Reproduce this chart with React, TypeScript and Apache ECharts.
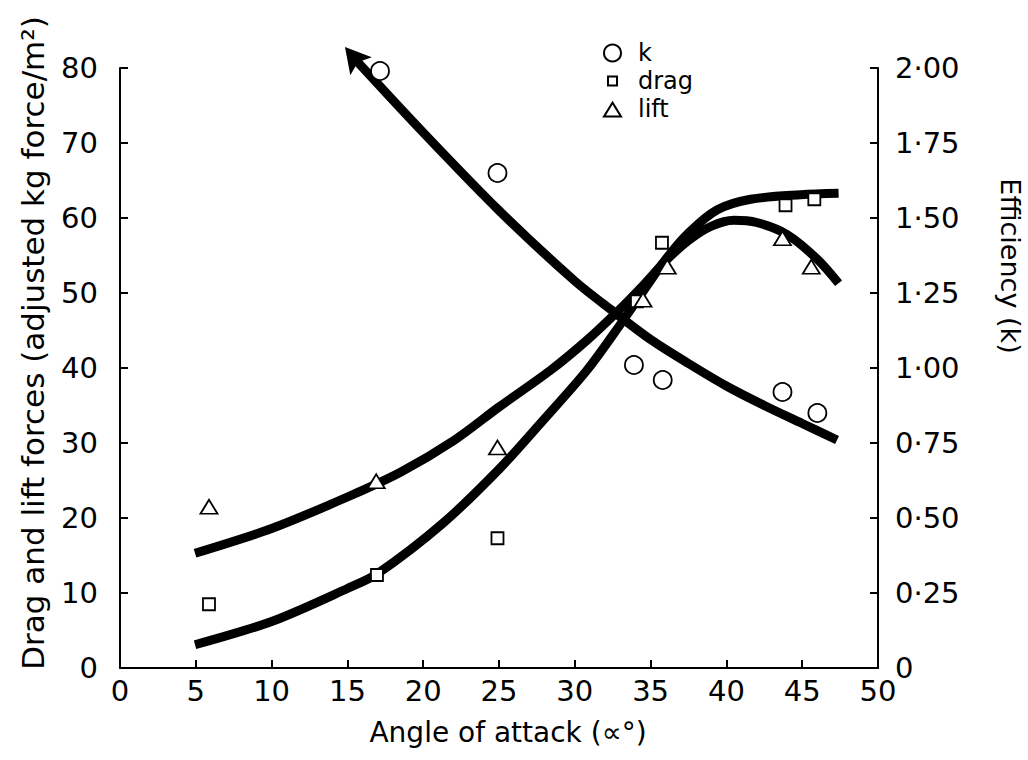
import React, { useEffect, useRef } from "react";
import * as echarts from "echarts";

// ---- data ----
const kPoints: number[][] = [[17.15, 1.99], [24.9, 1.65], [33.9, 1.01], [35.8, 0.96], [43.7, 0.92], [46.0, 0.85]];
const dragPoints: number[][] = [[5.87, 8.5], [16.95, 12.4], [24.9, 17.3], [34.1, 48.9], [35.75, 56.7], [43.9, 61.7], [45.8, 62.5]];
const liftPoints: number[][] = [[5.87, 21.5], [16.9, 24.9], [24.9, 29.4], [34.5, 49.1], [36.1, 53.5], [43.7, 57.3], [45.6, 53.5]];

const liftCurve: number[][] = [[4.95, 15.3], [10, 18.6], [15, 22.8], [18.5, 26.1], [22, 30.3], [25, 34.8], [28.4, 39.7], [30.8, 43.7], [32.8, 47.5], [34.5, 51], [36, 54.3], [37.5, 57], [39, 58.9], [40.5, 59.7], [42, 59.4], [44, 57.8], [46, 54.5], [47.4, 51.3]];
const dragCurve: number[][] = [[4.95, 3.1], [10, 6.2], [15, 10.6], [17, 12.6], [21.3, 19.3], [25, 26.5], [27.9, 33], [30.8, 39.7], [33, 45.8], [34.5, 50.2], [36, 54.5], [37.5, 58], [39.4, 61.1], [41.6, 62.5], [44.9, 63.1], [47.4, 63.3]];
const kCurve: number[][] = [[15.4, 2.035], [20, 1.785], [25, 1.525], [30, 1.29], [32.5, 1.19], [35, 1.095], [37.5, 1.015], [40, 0.94], [42.5, 0.875], [45, 0.815], [47.3, 0.76]];
const kArrowHead: number[][] = [[15.37, 2.038]];

const xTitle = "Angle of attack (\u221D\u00B0)";
const leftTitle = "Drag and lift forces (adjusted kg force/m\u00B2)";
const rightTitle = "Efficiency (k)";

const FONT = "DejaVu Sans";

export default function App() {
  const ref = useRef<HTMLDivElement>(null);
  useEffect(() => {
    const chart = echarts.init(ref.current!, null, { renderer: "svg" });
    const curveStyle = { color: "#000", width: 9, cap: "butt" };
    const pointStyle = { color: "#fff", borderColor: "#000", borderWidth: 1.8, opacity: 1 };
    chart.setOption({
      animation: false,
      backgroundColor: "#fff",
      textStyle: { fontFamily: FONT, color: "#000" },
      grid: { left: 120, right: 150, top: 68, bottom: 92, containLabel: false },
      legend: {
        orient: "vertical",
        left: 598,
        top: 36,
        itemGap: 4,
        itemWidth: 17,
        itemHeight: 17,
        data: [
          { name: "k", icon: "circle" },
          { name: "drag", icon: "path://M0 0M17 17M4 4h9v9h-9z" },
          { name: "lift", icon: "path://M0 0M16 16M8 2L16 15L0 15Z" },
        ],
        textStyle: { fontFamily: FONT, fontSize: 24, color: "#000", lineHeight: 24, padding: [0, 0, 0, 12] },
      },
      xAxis: {
        type: "value",
        min: 0,
        max: 50,
        interval: 5,
        name: xTitle,
        nameLocation: "middle",
        nameGap: 50,
        nameTextStyle: { fontFamily: FONT, fontSize: 28, color: "#000", padding: [0, 0, 0, 18] },
        axisLine: { show: true, lineStyle: { color: "#000", width: 2 } },
        axisTick: { show: true, inside: true, length: 8, lineStyle: { color: "#000", width: 2 } },
        axisLabel: { fontFamily: FONT, fontSize: 29, color: "#000", margin: 8 },
        splitLine: { show: false },
      },
      yAxis: [
        {
          type: "value",
          min: 0,
          max: 80,
          interval: 10,
          position: "left",
          axisLine: { show: true, lineStyle: { color: "#000", width: 2 } },
          axisTick: { show: true, inside: true, length: 8, lineStyle: { color: "#000", width: 2 } },
          axisLabel: { fontFamily: FONT, fontSize: 29, color: "#000", margin: 22 },
          splitLine: { show: false },
        },
        {
          type: "value",
          min: 0,
          max: 2,
          interval: 0.25,
          position: "right",
          axisLine: { show: true, lineStyle: { color: "#000", width: 2 } },
          axisTick: { show: true, inside: true, length: 8, lineStyle: { color: "#000", width: 2 } },
          axisLabel: {
            fontFamily: FONT,
            fontSize: 29,
            color: "#000",
            margin: 17,
            formatter: (v: number) => (v === 0 ? "0" : v.toFixed(2).replace(".", "\u00B7")),
          },
          splitLine: { show: false },
        },
      ],
      graphic: [
        {
          type: "text",
          x: 33,
          y: 343,
          rotation: Math.PI / 2,
          style: { text: leftTitle, fontFamily: FONT, fontSize: 31, fill: "#000", align: "center", verticalAlign: "middle" },
        },
        {
          type: "text",
          x: 1010,
          y: 266,
          rotation: -Math.PI / 2,
          style: { text: rightTitle, fontFamily: FONT, fontSize: 27, fill: "#000", align: "center", verticalAlign: "middle" },
        },
      ],
      series: [
        { name: "liftCurve", type: "line", data: liftCurve, smooth: 0.3, symbol: "none", lineStyle: curveStyle, z: 2 },
        { name: "dragCurve", type: "line", data: dragCurve, smooth: 0.3, symbol: "none", lineStyle: curveStyle, z: 2 },
        { name: "kCurve", type: "line", yAxisIndex: 1, data: kCurve, smooth: 0.3, symbol: "none", lineStyle: curveStyle, clip: false, z: 2 },
        {
          name: "kArrow",
          type: "scatter",
          yAxisIndex: 1,
          data: kArrowHead,
          symbol: "path://M0 0L14 25L0 20L-14 25Z",
          symbolSize: [28, 25],
          symbolRotate: 40,
          itemStyle: { color: "#000", opacity: 1 },
          clip: false,
          z: 3,
        },
        { name: "k", type: "scatter", yAxisIndex: 1, data: kPoints, symbol: "circle", symbolSize: 18, itemStyle: pointStyle, clip: false, z: 4 },
        { name: "drag", type: "scatter", data: dragPoints, symbol: "rect", symbolSize: 12, itemStyle: pointStyle, z: 4 },
        { name: "lift", type: "scatter", data: liftPoints, symbol: "triangle", symbolSize: [17, 14], itemStyle: pointStyle, z: 5 },
      ],
    });
    return () => chart.dispose();
  }, []);
  return (
    <div
      ref={ref}
      style={{ position: "absolute", left: 0, top: 0, width: 1028, height: 760, background: "#fff" }}
    />
  );
}
